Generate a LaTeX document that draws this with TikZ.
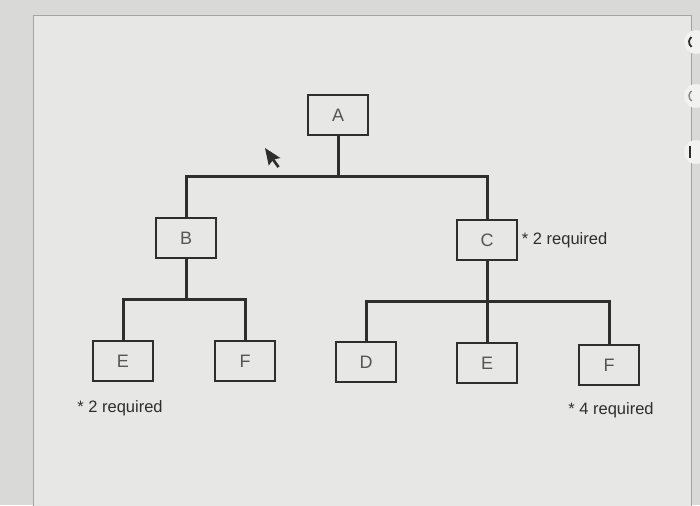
\documentclass[tikz,border=0pt]{standalone}
\usepackage{fontspec}
\setmainfont{Liberation Sans}
\usetikzlibrary{positioning}
\definecolor{panelgray}{HTML}{E7E7E5}
\definecolor{outgray}{HTML}{D9D9D7}
\definecolor{framegray}{HTML}{A4A4A2}
\definecolor{inkgray}{HTML}{2E2E2E}
\definecolor{lettergray}{HTML}{555555}
\tikzset{>=latex}
\tikzset{
  part/.style={draw=inkgray, line width=1.5pt, fill=panelgray, minimum width=60pt,
    minimum height=40pt, inner sep=0pt, text=lettergray, font=\fontsize{18}{20}\selectfont},
  link/.style={draw=inkgray, line width=3pt},
  note/.style={inner sep=1pt, text=inkgray, font=\fontsize{16.5}{18}\selectfont}
}

\begin{document}
\begin{tikzpicture}[x=1pt, y=-1pt]
      \useasboundingbox (0,0) rectangle (700,505);
      \clip (0,0) rectangle (700,505);
      % screen and panel
      \fill[outgray] (0,0) rectangle (700,505);
      \filldraw[draw=framegray, fill=panelgray, line width=1pt] (33,16) rectangle (691,520);
      % clipped side icons
      \fill[white!45!panelgray] (696,42) circle (12);
      \fill[white!45!panelgray] (696,96) circle (12);
      \fill[white!45!panelgray] (696,152) circle (12);
      \draw[inkgray, line width=1.8pt] (695,42) ++(125:6) arc (125:235:6);
      \draw[inkgray!60, line width=1.4pt] (695,96) ++(125:6) arc (125:235:6);
      \draw[inkgray, line width=1.6pt] (690,146) -- (690,158);
      % parts
      \node[part] (A) at (338,115) {A};
      \node[part] (B) at (186,238) {B};
      \node[part] (C) at (487,240) {C};
      \node[part] (E1) at (123,361) {E};
      \node[part] (F1) at (245,361) {F};
      \node[part] (D) at (366,362) {D};
      \node[part] (E2) at (487,363) {E};
      \node[part] (F2) at (609,365) {F};
      % junctions
      \coordinate (jA) at (338,176);
      \coordinate (jB) at (186,299);
      \coordinate (jC) at (487,301);
      \draw[link] (A) -- (jA);
      \draw[link] (B.north) |- (jA) -| (C.north);
      \draw[link] (B) -- (jB);
      \draw[link] (E1.north) |- (jB) -| (F1.north);
      \draw[link] (C) -- (jC);
      \draw[link] (D.north) |- (jC) -| (F2.north);
      \draw[link] (jC) -- (E2);
      % notes
      \node[note, anchor=west, right=3pt of C] (Cnote) {* 2 required};
      \node[note] (E1note) at (120,408) {* 2 required};
      \node[note] (F2note) at (611,410) {* 4 required};
      % pointer
      \fill[inkgray, rotate around={12:(265,148)}]
        (265,148) -- (265,166) -- (269.5,162) -- (273,170) -- (275.5,169) -- (272,161) -- (278,161) -- cycle;
\end{tikzpicture}
\end{document}
